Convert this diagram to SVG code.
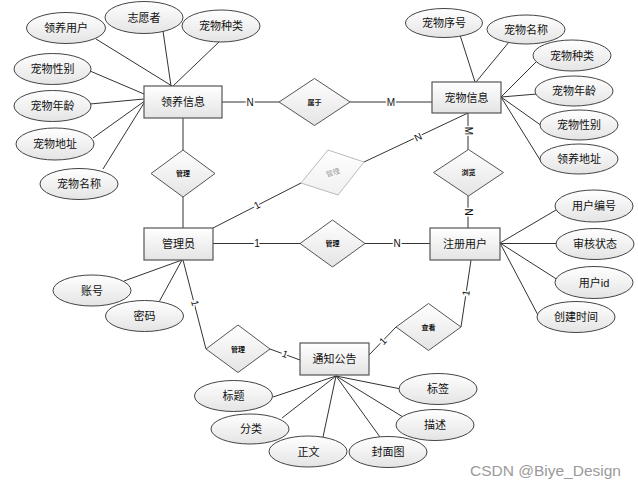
<svg xmlns="http://www.w3.org/2000/svg" width="638" height="490" viewBox="0 0 638 490">
<defs>
<linearGradient id="g" x1="0" y1="0" x2="0" y2="1"><stop offset="0" stop-color="#ffffff"/><stop offset="1" stop-color="#e4e4e4"/></linearGradient>
<linearGradient id="gf" x1="0" y1="0" x2="0" y2="1"><stop offset="0" stop-color="#ffffff"/><stop offset="1" stop-color="#f0f0f0"/></linearGradient>
<style>
text{font-family:"Liberation Sans","Noto Sans CJK SC",sans-serif;fill:#111;text-anchor:middle}
.ent rect{fill:url(#g);stroke:#555;stroke-width:1.2}
.ent text{font-size:11px}
.att ellipse{fill:url(#g);stroke:#444;stroke-width:1}
.att text{font-size:11px}
.rel polygon{fill:url(#g);stroke:#555;stroke-width:1}
.rel text{font-size:7px;font-weight:bold}
.faded polygon{fill:url(#gf);stroke:#bbb}
.faded text{fill:#999;font-weight:normal}
#connectors line{stroke:#333;stroke-width:1}
#connectors text{font-size:10px;paint-order:stroke;stroke:#fff;stroke-width:3px}
.wm{font-size:15.5px;fill:#9a9a9a;text-anchor:start}
</style>
</defs>
<rect width="638" height="490" fill="#fff"/>

<g id="connectors">
<line x1="222" y1="102" x2="279" y2="102"/>
<line x1="350" y1="102" x2="432" y2="102"/>
<line x1="183" y1="118" x2="183" y2="150"/>
<line x1="183" y1="197" x2="183" y2="228"/>
<line x1="213" y1="228" x2="301" y2="183"/>
<line x1="364" y1="162" x2="468" y2="113"/>
<line x1="468" y1="113" x2="468" y2="150"/>
<line x1="468" y1="196" x2="468" y2="228"/>
<line x1="213" y1="243.5" x2="300" y2="243.5"/>
<line x1="365" y1="243.5" x2="430" y2="243.5"/>
<line x1="183" y1="260" x2="206" y2="349"/>
<line x1="270" y1="349" x2="300" y2="360"/>
<line x1="369" y1="355" x2="396" y2="327"/>
<line x1="461" y1="327" x2="471" y2="260"/>
<!-- attribute links -->
<line x1="96" y1="39" x2="172" y2="86"/>
<line x1="163" y1="31" x2="171" y2="86"/>
<line x1="220" y1="41" x2="173" y2="86"/>
<line x1="90" y1="71" x2="144" y2="94"/>
<line x1="90" y1="104" x2="144" y2="99"/>
<line x1="93" y1="138" x2="144" y2="101.5"/>
<line x1="103" y1="169" x2="144" y2="103"/>
<line x1="460" y1="35" x2="475" y2="82"/>
<line x1="509" y1="42" x2="476" y2="82"/>
<line x1="536" y1="62" x2="501" y2="97"/>
<line x1="537" y1="94" x2="501" y2="97"/>
<line x1="542" y1="126" x2="501" y2="97"/>
<line x1="542" y1="163" x2="501" y2="97"/>
<line x1="124" y1="281" x2="182" y2="260"/>
<line x1="159" y1="302" x2="182" y2="260"/>
<line x1="556" y1="210" x2="500" y2="243"/>
<line x1="557" y1="243.5" x2="500" y2="243.5"/>
<line x1="558" y1="280" x2="500" y2="243"/>
<line x1="539" y1="317" x2="500" y2="243"/>
<line x1="273" y1="397" x2="336" y2="376"/>
<line x1="282" y1="418" x2="336" y2="376"/>
<line x1="323" y1="437" x2="336" y2="376"/>
<line x1="380" y1="437" x2="336" y2="376"/>
<line x1="403" y1="417" x2="336" y2="376"/>
<line x1="401" y1="389" x2="336" y2="376"/>
<!-- cardinality labels -->
<text x="250" y="105.5">N</text>
<text x="391" y="105.5">M</text>
<text x="0" y="3.5" transform="translate(257,205) rotate(-27)">1</text>
<text x="0" y="3.5" transform="translate(418,137) rotate(-25)">N</text>
<text x="0" y="3.5" transform="translate(468,131) rotate(90)">M</text>
<text x="0" y="3.5" transform="translate(468,212) rotate(90)">N</text>
<text x="257" y="247">1</text>
<text x="397" y="247">N</text>
<text x="0" y="3.5" transform="translate(195,303) rotate(76)">1</text>
<text x="0" y="3.5" transform="translate(285,354) rotate(20)">1</text>
<text x="0" y="3.5" transform="translate(383,341) rotate(-46)">1</text>
<text x="0" y="3.5" transform="translate(466,293) rotate(-81)">1</text>
</g>

<g id="e-adopt" class="ent"><rect x="144" y="86" width="78" height="32"/><text x="183" y="106">领养信息</text></g>
<g id="e-pet" class="ent"><rect x="432" y="82" width="69" height="31"/><text x="466.5" y="101.5">宠物信息</text></g>
<g id="e-admin" class="ent"><rect x="144" y="228" width="69" height="32"/><text x="178.5" y="248">管理员</text></g>
<g id="e-user" class="ent"><rect x="430" y="228" width="70" height="32"/><text x="465" y="248">注册用户</text></g>
<g id="e-notice" class="ent"><rect x="300" y="343" width="69" height="32"/><text x="334.5" y="363">通知公告</text></g>

<g id="r-belong" class="rel"><polygon points="279,102 314.5,78.5 350,102 314.5,125.5"/><text x="314.5" y="104.5">属于</text></g>
<g id="r-manage1" class="rel"><polygon points="151,173.5 183,150 215,173.5 183,197"/><text x="183" y="176">管理</text></g>
<g id="r-manage-faded" class="rel faded"><polygon points="301,183 328,150 364,162 338,195"/><text x="0" y="2.5" transform="translate(333,172.5) rotate(-18)">管理</text></g>
<g id="r-browse" class="rel"><polygon points="433.5,172.5 468.5,149.5 503.5,172.5 468.5,196"/><text x="468.5" y="175">浏览</text></g>
<g id="r-manage2" class="rel"><polygon points="300,243.5 332.5,220 365,243.5 332.5,267"/><text x="332.5" y="246">管理</text></g>
<g id="r-manage3" class="rel"><polygon points="206,349 238,325 270,349 238,372.5"/><text x="238" y="351.5">管理</text></g>
<g id="r-view" class="rel"><polygon points="396,327 428.5,303.5 461,327 428.5,350.5"/><text x="428.5" y="329.5">查看</text></g>

<g id="a-adopter" class="att"><ellipse cx="66" cy="28" rx="39.5" ry="15.5"/><text x="66" y="32">领养用户</text></g>
<g id="a-volunteer" class="att"><ellipse cx="144" cy="17.5" rx="39" ry="16"/><text x="144" y="21.5">志愿者</text></g>
<g id="a-kind1" class="att"><ellipse cx="221" cy="26" rx="39" ry="16"/><text x="221" y="30">宠物种类</text></g>
<g id="a-sex1" class="att"><ellipse cx="52.5" cy="69" rx="38.5" ry="15.5"/><text x="52.5" y="73">宠物性别</text></g>
<g id="a-age1" class="att"><ellipse cx="52.5" cy="106" rx="38.5" ry="15.5"/><text x="52.5" y="110">宠物年龄</text></g>
<g id="a-addr1" class="att"><ellipse cx="55" cy="144" rx="39" ry="16"/><text x="55" y="148">宠物地址</text></g>
<g id="a-name1" class="att"><ellipse cx="79" cy="184" rx="39" ry="15.5"/><text x="79" y="188">宠物名称</text></g>

<g id="a-no" class="att"><ellipse cx="444" cy="23" rx="38.5" ry="14.5"/><text x="444" y="27">宠物序号</text></g>
<g id="a-name2" class="att"><ellipse cx="526" cy="29.5" rx="39" ry="14.5"/><text x="526" y="33.5">宠物名称</text></g>
<g id="a-kind2" class="att"><ellipse cx="572" cy="55.5" rx="39" ry="15.5"/><text x="572" y="59.5">宠物种类</text></g>
<g id="a-age2" class="att"><ellipse cx="574" cy="91" rx="39" ry="15"/><text x="574" y="95">宠物年龄</text></g>
<g id="a-sex2" class="att"><ellipse cx="579" cy="125" rx="39" ry="15"/><text x="579" y="129">宠物性别</text></g>
<g id="a-addr2" class="att"><ellipse cx="579" cy="159" rx="39" ry="15"/><text x="579" y="163">领养地址</text></g>

<g id="a-uno" class="att"><ellipse cx="594" cy="206" rx="39" ry="16"/><text x="594" y="210">用户编号</text></g>
<g id="a-status" class="att"><ellipse cx="595" cy="244" rx="39" ry="15.5"/><text x="595" y="248">审核状态</text></g>
<g id="a-uid" class="att"><ellipse cx="594" cy="282.5" rx="39" ry="16"/><text x="594" y="286.5">用户id</text></g>
<g id="a-ctime" class="att"><ellipse cx="576" cy="317" rx="39" ry="15.5"/><text x="576" y="321">创建时间</text></g>

<g id="a-account" class="att"><ellipse cx="92" cy="290.5" rx="39" ry="15.5"/><text x="92" y="294.5">账号</text></g>
<g id="a-pwd" class="att"><ellipse cx="144.5" cy="316" rx="39" ry="15.5"/><text x="144.5" y="320">密码</text></g>

<g id="a-title" class="att"><ellipse cx="233.5" cy="396" rx="39" ry="15.5"/><text x="233.5" y="400">标题</text></g>
<g id="a-cat" class="att"><ellipse cx="250" cy="429" rx="39" ry="15"/><text x="251" y="433">分类</text></g>
<g id="a-body" class="att"><ellipse cx="308" cy="451.5" rx="39" ry="15.5"/><text x="308.5" y="455.5">正文</text></g>
<g id="a-cover" class="att"><ellipse cx="388" cy="452" rx="39" ry="15.5"/><text x="388" y="456">封面图</text></g>
<g id="a-desc" class="att"><ellipse cx="435" cy="425" rx="39" ry="15.5"/><text x="435" y="429">描述</text></g>
<g id="a-tag" class="att"><ellipse cx="438" cy="389" rx="39" ry="15.5"/><text x="438" y="393">标签</text></g>

<text class="wm" x="470" y="476">CSDN @Biye_Design</text>
</svg>
